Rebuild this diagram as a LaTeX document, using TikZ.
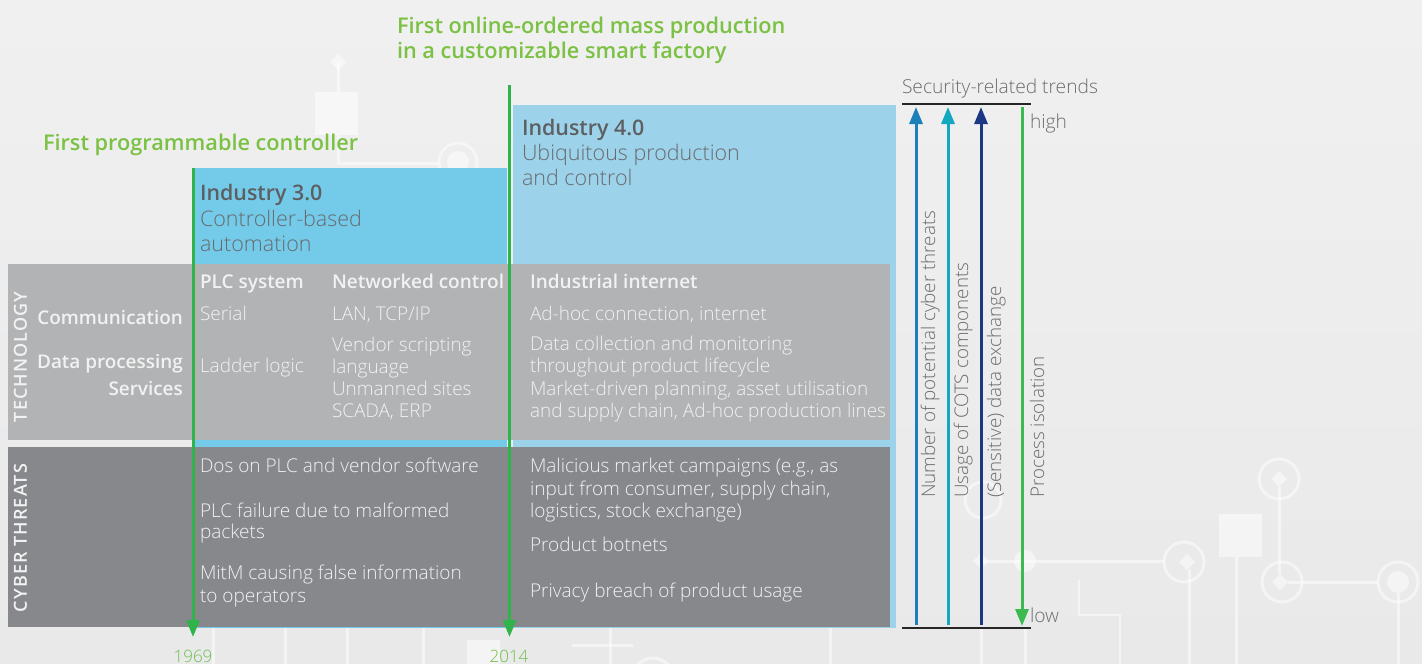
\documentclass[tikz,border=0pt]{standalone}
\usepackage{fontspec}
\setmainfont{Open Sans}
\IfFontExistsTF{Open Sans Light}{\newfontfamily\fLight{Open Sans Light}}{\newfontfamily\fLight{Open Sans}}
\IfFontExistsTF{Open Sans SemiBold}{\newfontfamily\fSemi{Open Sans SemiBold}}{\IfFontExistsTF{Open Sans Semibold}{\newfontfamily\fSemi{Open Sans Semibold}}{\newcommand\fSemi{\bfseries}}}
\usetikzlibrary{arrows.meta}
\definecolor{bgtop}{HTML}{F0F0F0}
\definecolor{bgbot}{HTML}{E9E9E9}
\definecolor{bluethree}{HTML}{74CBE9}
\definecolor{bluefour}{HTML}{9DD3EA}
\definecolor{techgrey}{HTML}{B1B3B4}
\definecolor{cybergrey}{HTML}{86888C}
\definecolor{hdrdark}{HTML}{5D5F62}
\definecolor{subdark}{HTML}{686A6E}
\definecolor{bodywhite}{HTML}{F2F2F2}
\definecolor{titlegreen}{HTML}{7BC143}
\definecolor{yeargreen}{HTML}{6DBF4B}
\definecolor{arrowgreen}{HTML}{2FB34A}
\definecolor{trendgrey}{HTML}{6B6D70}
\definecolor{tblue}{HTML}{1B7FB8}
\definecolor{tteal}{HTML}{11A8C0}
\definecolor{tnavy}{HTML}{1C3784}
\definecolor{tgreen}{HTML}{3BBB4F}
\tikzset{
  txt/.style={anchor=base west, inner sep=0pt, outer sep=0pt},
  gtitle/.style={txt, font=\fSemi\fontsize{21.7}{25}\selectfont, text=titlegreen},
  ihdr/.style={txt, font=\fSemi\fontsize{21.4}{25}\selectfont, text=hdrdark},
  isub/.style={txt, font=\fLight\fontsize{21.5}{25}\selectfont, text=subdark},
  colhdr/.style={txt, font=\fSemi\fontsize{19}{22}\selectfont, text=bodywhite},
  rowlbl/.style={anchor=base east, inner sep=0pt, font=\fSemi\fontsize{18.9}{22}\selectfont, text=bodywhite},
  body/.style={txt, font=\fLight\fontsize{19}{22}\selectfont, text=bodywhite},
  sidelbl/.style={anchor=base, inner sep=0pt, rotate=90, font=\fSemi\fontsize{18}{20}\selectfont\addfontfeature{LetterSpace=6}, text=bodywhite},
  trendtxt/.style={txt, font=\fLight\fontsize{19.2}{22}\selectfont, text=trendgrey},
  vtrend/.style={anchor=base west, inner sep=0pt, rotate=90, font=\fLight\fontsize{18.8}{22}\selectfont, text=trendgrey},
  year/.style={anchor=base, inner sep=0pt, font=\fLight\fontsize{17}{20}\selectfont, text=yeargreen},
  garrow/.style={draw=arrowgreen, line width=3pt, -{Triangle[length=17pt,width=13pt]}},
  tarrow/.style={line width=3pt, -{Triangle[length=17pt,width=13pt]}},
  blackline/.style={draw=black!85, line width=2.5pt},
  deco/.style={draw=white, opacity=0.5, line width=3pt},
  decofill/.style={fill=white, opacity=0.5},
}
\begin{document}
\begin{tikzpicture}[x=1pt,y=-1pt]
\useasboundingbox (0,0) rectangle (1422,664);
% background
\shade[top color=bgtop, bottom color=bgbot] (0,0) rectangle (1422,664);
% faint circuit decorations
\fill[decofill] (338,54) -- (346,62) -- (338,70) -- (330,62) -- cycle;
\draw[deco] (338,62) -- (338,92);
\fill[decofill] (315,92) rectangle (358,135);
\draw[deco] (338,135) -- (338,163) -- (439,163);
\draw[deco] (458,162) circle (19);
\fill[decofill] (458,162) circle (11);
\draw[deco] (458,181) -- (458,264);
\draw[deco] (272,190) circle (18);
\draw[deco] (367,233) circle (19);
\draw[deco] (196,235) -- (507,235);
\fill[decofill] (1279,471) -- (1287,479) -- (1279,487) -- (1271,479) -- cycle;
\draw[deco] (1279,479) circle (20);
\draw[deco] (1279,487) -- (1279,574);
\fill[decofill] (1219,514) rectangle (1262,557);
\draw[deco] (1236,557) -- (1236,664);
\draw[deco] (1282,582) circle (20);
\fill[decofill] (1280,574) -- (1288,582) -- (1280,590) -- (1272,582) -- cycle;
\draw[deco] (1288,582) -- (1378,582);
\draw[deco] (1398,582) circle (20);
\fill[decofill] (1398,582) circle (11);
\draw[deco] (1398,593) -- (1398,664);
\draw[deco] (1184,562) circle (20);
\fill[decofill] (1187,554) -- (1195,562) -- (1187,570) -- (1179,562) -- cycle;
\draw[deco] (981,561) -- (1164,561);
\fill[decofill] (1025,561) circle (11);
\fill[decofill] (981,553) -- (989,561) -- (981,569) -- (973,561) -- cycle;
\draw[deco] (1189,570) -- (1189,664);
\draw[deco] (983,500) circle (18);
\draw[deco] (981,628) -- (981,664);
\draw[deco] (1025,628) -- (1025,664);
\draw[deco, line width=2pt] (1079,580) -- (1079,615) -- (1120,615) -- (1120,664);
\draw[deco] (213,628) -- (213,664);
\draw[deco] (285,628) -- (285,664);
\draw[deco] (347,628) -- (347,664);
\draw[deco] (423,628) -- (423,664);
\fill[decofill] (467,640) rectangle (500,664);
\draw[deco] (572,645) -- (633,645);
\draw[deco] (610,628) -- (610,664);
\draw[deco] (653,678) circle (20);
\draw[deco] (830,628) -- (830,664);
% industry boxes
\fill[bluethree] (195,168) rectangle (507,628);
\fill[bluefour] (513,105) rectangle (896,628);
\fill[techgrey] (8,264) rectangle (890,440);
\fill[cybergrey] (8,447) rectangle (890,627);
% titles
\node[gtitle] (t1) at (43,150) {First programmable controller};
\node[gtitle] (t2a) at (397,33) {First online-ordered mass production};
\node[gtitle] (t2b) at (397,58) {in a customizable smart factory};
% industry headers
\node[ihdr] (i3) at (200,200) {Industry 3.0};
\node[isub] (i3a) at (200,226) {Controller-based};
\node[isub] (i3b) at (200,251) {automation};
\node[ihdr] (i4) at (522,135) {Industry 4.0};
\node[isub] (i4a) at (522,160) {Ubiquitous production};
\node[isub] (i4b) at (522,185) {and control};
% side labels
\node[sidelbl] (tech) at (27,357) {TECHNOLOGY};
\node[sidelbl] (cyb) at (27,538) {CYBER THREATS};
% technology row
\node[colhdr] (h1) at (200,288) {PLC system};
\node[colhdr] (h2) at (332,288) {Networked control};
\node[colhdr] (h3) at (530,288) {Industrial internet};
\node[rowlbl] (r1) at (183,324) {Communication};
\node[rowlbl] (r2) at (183,368) {Data processing};
\node[rowlbl] (r3) at (183,395) {Services};
\node[body] (c11) at (200,320) {Serial};
\node[body] (c12) at (332,320) {LAN, TCP/IP};
\node[body] (c13) at (530,320) {Ad-hoc connection, internet};
\node[body] (c21) at (200,372) {Ladder logic};
\node[body] (c22a) at (332,351) {Vendor scripting};
\node[body] (c22b) at (332,373) {language};
\node[body] (c32a) at (332,395) {Unmanned sites};
\node[body] (c32b) at (332,417) {SCADA, ERP};
\node[body] (c23a) at (530,350) {Data collection and monitoring};
\node[body] (c23b) at (530,372) {throughout product lifecycle};
\node[body] (c33a) at (530,395) {Market-driven planning, asset utilisation};
\node[body] (c33b) at (530,417) {and supply chain, Ad-hoc production lines};
% cyber threats row
\node[body] (d1) at (200,472) {Dos on PLC and vendor software};
\node[body] (d2a) at (200,517) {PLC failure due to malformed};
\node[body] (d2b) at (200,538) {packets};
\node[body] (d3a) at (200,579) {MitM causing false information};
\node[body] (d3b) at (200,602) {to operators};
\node[body] (e1a) at (530,472) {Malicious market campaigns (e.g., as};
\node[body] (e1b) at (530,495) {input from consumer, supply chain,};
\node[body] (e1c) at (530,517) {logistics, stock exchange)};
\node[body] (e2) at (530,551) {Product botnets};
\node[body] (e3) at (530,597) {Privacy breach of product usage};
% timeline arrows
\coordinate (a1s) at (193,168);
\coordinate (a1e) at (193,637);
\coordinate (a2s) at (509.5,85);
\coordinate (a2e) at (509.5,637);
\draw[garrow] (a1s) -- (a1e);
\draw[garrow] (a2s) -- (a2e);
\node[year] (y1) at (193,662) {1969};
\node[year] (y2) at (509,662) {2014};
% security-related trends
\node[trendtxt] (srt) at (902,93) {Security-related trends};
\coordinate (topl) at (902,104);
\coordinate (topr) at (1031,104);
\coordinate (botl) at (902,628);
\coordinate (botr) at (1031,628);
\draw[blackline] (topl) -- (topr);
\draw[blackline] (botl) -- (botr);
\coordinate (b1) at (916,625); \coordinate (u1) at (916,107);
\coordinate (b2) at (948,625); \coordinate (u2) at (948,107);
\coordinate (b3) at (981,625); \coordinate (u3) at (981,107);
\coordinate (u4) at (1022,107); \coordinate (b4) at (1022,626);
\draw[tarrow, draw=tblue, fill=tblue] (b1) -- (u1);
\draw[tarrow, draw=tteal, fill=tteal] (b2) -- (u2);
\draw[tarrow, draw=tnavy, fill=tnavy] (b3) -- (u3);
\draw[tarrow, draw=tgreen, fill=tgreen] (u4) -- (b4);
\node[trendtxt] (hi) at (1030,128) {high};
\node[trendtxt] (lo) at (1030,622) {low};
\node[vtrend] (v1) at (935,498) {Number of potential cyber threats};
\node[vtrend] (v2) at (968,498) {Usage of COTS components};
\node[vtrend] (v3) at (1001,498) {(Sensitive) data exchange};
\node[vtrend] (v4) at (1044,498) {Process isolation};
\end{tikzpicture}
\end{document}
